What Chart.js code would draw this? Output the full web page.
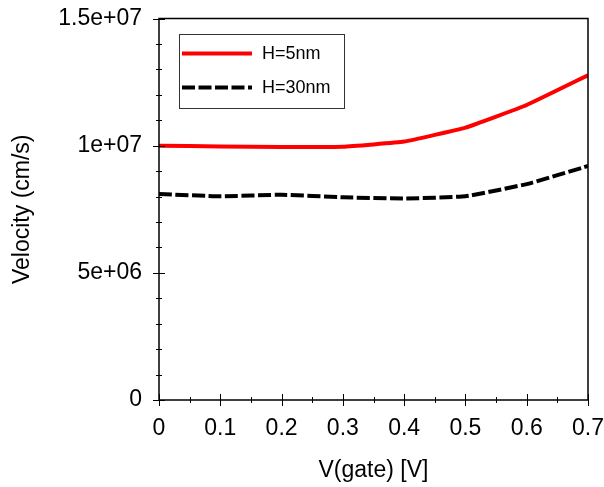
<!DOCTYPE html>
<html>
<head>
<meta charset="utf-8">
<script src="https://cdn.jsdelivr.net/npm/chart.js@4"></script>
<style>
    html, body { margin: 0; padding: 0; background: #fff; }
    #wrap { width: 604px; height: 487px; }
</style>
</head>
<body>
<div id="wrap"><canvas id="velocityChart" width="604" height="487"></canvas></div>
<script>
// gate voltage points (V)
const vGate = [0, 0.1, 0.2, 0.3, 0.4, 0.5, 0.6, 0.7];
// velocity (cm/s) for each channel thickness
const velH5 = [1.0e7, 0.997e7, 0.995e7, 0.996e7, 1.016e7, 1.071e7, 1.16e7, 1.277e7];
const velH30 = [8.10e6, 8.01e6, 8.07e6, 7.97e6, 7.92e6, 8.01e6, 8.49e6, 9.20e6];
const seriesNames = ['H=5nm', 'H=30nm'];

const xTickLabels = ['0', '0.1', '0.2', '0.3', '0.4', '0.5', '0.6', '0.7'];
const yTickLabels = ['0', '5e+06', '1e+07', '1.5e+07'];

const FONT = "'Liberation Sans', Arial, sans-serif";

/**
 * Frame around the plot, major/minor tick marks and the boxed legend
 */
const framePlugin = {
    id: 'frame',
    afterDatasetsDraw(chart) {
        const { ctx, chartArea: a, scales: { x, y } } = chart;
        ctx.save();
        ctx.strokeStyle = '#000';
        ctx.lineWidth = 1.5;
        ctx.strokeRect(a.left, a.top, a.right - a.left, a.bottom - a.top);

        ctx.lineWidth = 1;
        ctx.beginPath();
        // x ticks: major every 0.1, minor every 0.05
        for (let i = 0; i <= 14; i++) {
            const px = Math.round(x.getPixelForValue(i * 0.05)) + 0.5;
            const len = i % 2 === 0 ? 6 : 3;
            ctx.moveTo(px, a.bottom - len);
            ctx.lineTo(px, a.bottom + len);
        }
        // y ticks: major every 5e6, minor every 1e6
        for (let i = 0; i <= 15; i++) {
            const py = Math.round(y.getPixelForValue(i * 1e6)) + 0.5;
            const len = i % 5 === 0 ? 6 : 3;
            ctx.moveTo(a.left - len, py);
            ctx.lineTo(a.left + len, py);
        }
        ctx.stroke();

        // legend box
        const bx = 179, by = 34, bw = 165, bh = 74;
        ctx.fillStyle = '#fff';
        ctx.fillRect(bx, by, bw, bh);
        ctx.strokeStyle = '#333';
        ctx.lineWidth = 1;
        ctx.strokeRect(bx + 0.5, by + 0.5, bw, bh);

        ctx.font = '18px ' + FONT;
        ctx.textBaseline = 'middle';
        ctx.fillStyle = '#000';
        chart.data.datasets.forEach((ds, i) => {
            const ly = by + 19.5 + i * 34;
            ctx.strokeStyle = ds.borderColor;
            ctx.lineWidth = ds.borderWidth;
            ctx.setLineDash(ds.borderDash || []);
            ctx.beginPath();
            ctx.moveTo(182, ly);
            ctx.lineTo(252, ly);
            ctx.stroke();
            ctx.setLineDash([]);
            ctx.fillText(ds.label, 262, ly + 1);
        });
        ctx.restore();
    }
};

function noPadding(scale) {
    scale.paddingLeft = 0;
    scale.paddingRight = 0;
    scale.paddingTop = 0;
    scale.paddingBottom = 0;
}

const ctx = document.getElementById('velocityChart').getContext('2d');
new Chart(ctx, {
    type: 'line',
    data: {
        datasets: [
            {
                label: seriesNames[0],
                data: vGate.map((v, i) => ({ x: v, y: velH5[i] })),
                borderColor: '#ff0000',
                borderWidth: 4,
                pointRadius: 0,
                tension: 0.1,
                fill: false
            },
            {
                label: seriesNames[1],
                data: vGate.map((v, i) => ({ x: v, y: velH30[i] })),
                borderColor: '#000000',
                borderWidth: 4,
                borderDash: [13, 3.5],
                pointRadius: 0,
                tension: 0.1,
                fill: false
            }
        ]
    },
    options: {
        responsive: false,
        animation: false,
        devicePixelRatio: 1,
        layout: { padding: { top: 18.5, right: 16, left: 0, bottom: 0 } },
        plugins: {
            legend: { display: false },
            tooltip: { enabled: false }
        },
        scales: {
            x: {
                type: 'linear',
                min: 0,
                max: 0.7,
                grid: { display: false, drawTicks: false },
                border: { display: false },
                ticks: {
                    stepSize: 0.1,
                    padding: 15,
                    color: '#000',
                    font: { family: FONT, size: 23 },
                    maxRotation: 0,
                    callback: (v, i) => xTickLabels[i]
                },
                title: {
                    display: true,
                    text: 'V(gate) [V]',
                    color: '#000',
                    font: { family: FONT, size: 23 },
                    padding: { top: 0, bottom: 3 }
                },
                afterFit: (scale) => { scale.height = 87; noPadding(scale); }
            },
            y: {
                min: 0,
                max: 1.5e7,
                grid: { display: false, drawTicks: false },
                border: { display: false },
                ticks: {
                    stepSize: 5e6,
                    padding: 17,
                    color: '#000',
                    font: { family: FONT, size: 23 },
                    callback: (v, i) => yTickLabels[i]
                },
                title: {
                    display: true,
                    text: 'Velocity (cm/s)',
                    color: '#000',
                    font: { family: FONT, size: 23 },
                    padding: { top: 9, bottom: 0 }
                },
                afterFit: (scale) => { scale.width = 159; noPadding(scale); }
            }
        }
    },
    plugins: [framePlugin]
});
</script>
</body>
</html>
